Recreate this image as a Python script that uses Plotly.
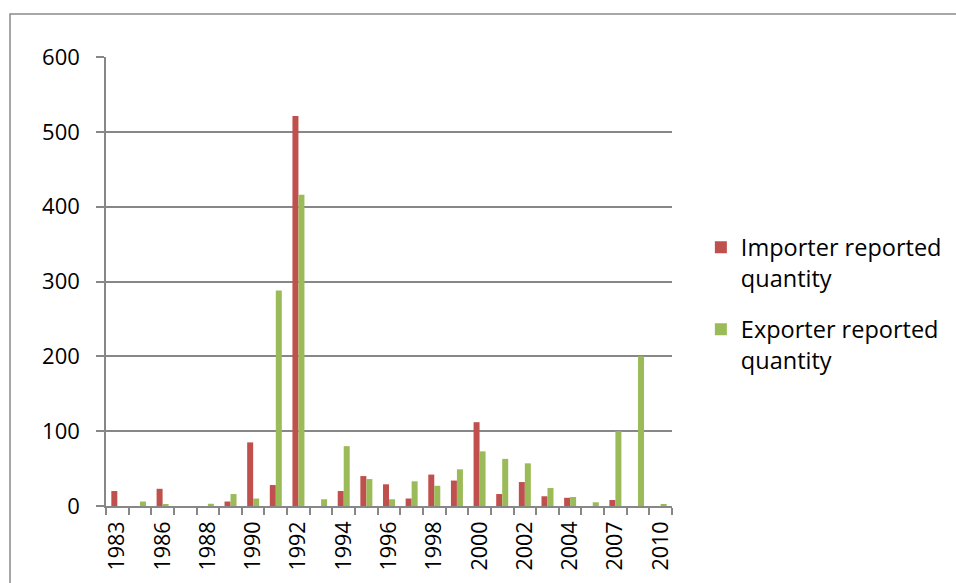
import plotly.graph_objects as go

# Reporting years shown on the category axis
years = ["1983", "1985", "1986", "1987", "1988", "1989", "1990", "1991", "1992",
         "1993", "1994", "1995", "1996", "1997", "1998", "1999", "2000", "2001",
         "2002", "2003", "2004", "2006", "2007", "2009", "2010"]

# Quantities reported by each side of the trade
importer_qty = [20, 0, 23, 0, 0, 6, 85, 28, 521, 0, 20, 40, 29, 10, 42, 34,
                112, 16, 32, 13, 11, 0, 8, 0, 0]
exporter_qty = [0, 6, 2, 0, 3, 16, 10, 288, 416, 9, 80, 36, 9, 33, 27, 49,
                73, 63, 57, 24, 12, 5, 100, 200, 1.5]

# Only every other year gets a visible label
tick_text = [y if i % 2 == 0 else "" for i, y in enumerate(years)]

FONT = "Open Sans, Liberation Sans, sans-serif"
AXIS_GREY = "#878787"

fig = go.Figure()
fig.add_trace(go.Bar(
    x=years, y=importer_qty, name="Importer reported<br>quantity",
    marker=dict(color="#C0504D", line=dict(width=0)), legendgroup="imp",
))
fig.add_trace(go.Bar(
    x=years, y=exporter_qty, name="Exporter reported<br>quantity",
    marker=dict(color="#9BBB59", line=dict(width=0)), legendgroup="exp",
))

fig.update_layout(
    width=956, height=583,
    margin=dict(l=106, r=284, t=57, b=77, autoexpand=False),
    paper_bgcolor="white", plot_bgcolor="white",
    barmode="group", bargap=0.47, bargroupgap=0,
    font=dict(family=FONT, size=21, color="#000000"),
    showlegend=True,
    legend=dict(
        x=1.051, y=0.625, xanchor="left", yanchor="top",
        valign="top", traceorder="grouped", tracegroupgap=18,
        itemwidth=30, font=dict(family=FONT, size=23.5, color="#000000"),
        bgcolor="rgba(0,0,0,0)",
    ),
    xaxis=dict(
        type="category", tickmode="array", tickvals=years, ticktext=tick_text,
        tickson="boundaries", ticks="outside", ticklen=7, tickwidth=1.5,
        tickcolor=AXIS_GREY, tickangle=-90, showgrid=False,
        showline=True, linecolor=AXIS_GREY, linewidth=1.5,
        ticklabelstandoff=5,
        tickfont=dict(family=FONT, size=21.5, color="#000000"),
        automargin=False,
    ),
    yaxis=dict(
        range=[0, 600], tick0=0, dtick=100, ticks="outside", ticklen=8,
        tickwidth=1.5, tickcolor=AXIS_GREY, showgrid=True, gridcolor=AXIS_GREY,
        gridwidth=1.5, showline=True, linecolor=AXIS_GREY, linewidth=1.5,
        zeroline=False, ticklabelstandoff=12,
        tickfont=dict(family=FONT, size=22, color="#000000"),
        automargin=False,
    ),
    shapes=[dict(
        type="rect", xref="paper", yref="paper",
        x0=-0.1696, x1=1.7, y0=-0.25, y1=1.0958,
        line=dict(color="#8a8a8a", width=1.5), fillcolor="rgba(0,0,0,0)",
        layer="below",
    )],
)

fig.write_html("out.html")
